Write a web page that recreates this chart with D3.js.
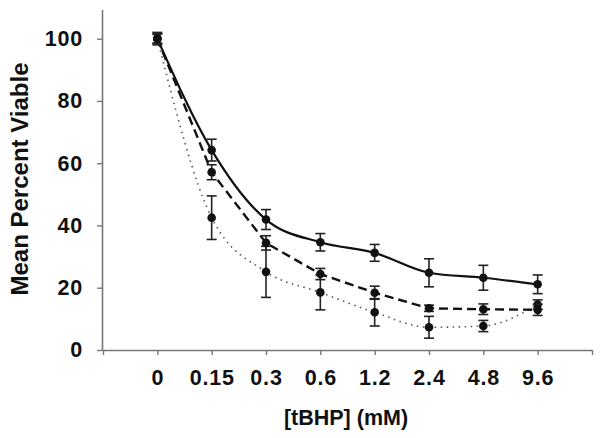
<!DOCTYPE html>
<html><head><meta charset="utf-8">
<script src="https://cdn.jsdelivr.net/npm/d3@7"></script>
<style>body{margin:0;background:#fff}svg{display:block}text{font-family:"Liberation Sans",Arial,sans-serif;font-weight:bold;fill:#111}</style>
</head><body><svg id="c" width="604" height="438"></svg>
<script>
const categories = ["0","0.15","0.3","0.6","1.2","2.4","4.8","9.6"];
const solidValues  = [100, 64.2, 41.9, 34.6, 31.2, 24.8, 23.2, 21.1];
const solidErrors  = [2, 3.5, 3.2, 2.8, 2.7, 4.5, 4, 3];
const dashedValues = [100, 57.1, 34.4, 24.4, 18.4, 13.4, 13.1, 12.9];
const dashedErrors = [1.5, 2.4, 2.3, 1.8, 2.1, 1, 1.7, 1.8];
const dottedValues = [100, 42.5, 25.1, 18.5, 12.1, 7.3, 7.7, 14.6];
const dottedErrors = [1.5, 7, 8.2, 5.6, 4.4, 3.5, 1.8, 1.5];
const yTicks = [0, 20, 40, 60, 80, 100];
const yLabel = "Mean Percent Viable";
const xLabel = "[tBHP] (mM)";

const svg = d3.select("#c");
const x = d3.scaleLinear().domain([0, categories.length + 1]).range([103, 592]);
const y = d3.scaleLinear().domain([0, 109.2]).range([350, 10]);

// axes
const axisColor = "#777";
const yAxis = svg.append("g").attr("transform", "translate(103,0)")
  .call(d3.axisLeft(y).tickValues(yTicks).tickSize(6).tickPadding(14).tickFormat(d3.format("d")));
const xAxis = svg.append("g").attr("transform", "translate(0,350)")
  .call(d3.axisBottom(x).tickValues(d3.range(0, categories.length + 2)).tickSize(5).tickPadding(15)
    .tickFormat(i => (i >= 1 && i <= categories.length) ? categories[i - 1] : ""));
[yAxis, xAxis].forEach(g => {
  g.select(".domain").attr("stroke", axisColor).attr("stroke-width", 1.6);
  g.selectAll(".tick line").attr("stroke", axisColor).attr("stroke-width", 1.4);
  g.selectAll(".tick text").attr("font-size", 21.5).attr("fill", "#111")
    .style("letter-spacing", "0.8px")
    .style("font-family", '"Liberation Sans",Arial,sans-serif').style("font-weight", "bold");
});
yAxis.select(".domain").attr("d", `M-0.5,${y(0)}V${y(109.2)}`);
xAxis.select(".domain").attr("d", `M${x(0)},0.5H${x(categories.length + 1)}`);
xAxis.selectAll(".tick text").attr("dy", "0.71em");

// series
const series = [
  {vals: dottedValues, errs: dottedErrors, color: "#555", width: 1.6, dash: "1.5,4.5", curve: d3.curveMonotoneX},
  {vals: dashedValues, errs: dashedErrors, color: "#111", width: 2.4, dash: "9,5", curve: d3.curveLinear},
  {vals: solidValues,  errs: solidErrors,  color: "#111", width: 2.2, dash: null, curve: d3.curveMonotoneX}
];
series.forEach(s => {
  const line = d3.line().x((d, i) => x(i + 1)).y(d => y(d)).curve(s.curve);
  svg.append("path").datum(s.vals).attr("d", line).attr("fill", "none")
    .attr("stroke", s.color).attr("stroke-width", s.width)
    .attr("stroke-dasharray", s.dash);
});
series.forEach(s => {
  const g = svg.append("g").attr("stroke", "#222").attr("stroke-width", 1.6).attr("fill", "none");
  s.vals.forEach((v, i) => {
    const cx = x(i + 1), top = y(v + s.errs[i]), bot = y(v - s.errs[i]);
    g.append("line").attr("x1", cx).attr("x2", cx).attr("y1", top).attr("y2", bot);
    g.append("line").attr("x1", cx - 5).attr("x2", cx + 5).attr("y1", top).attr("y2", top);
    g.append("line").attr("x1", cx - 5).attr("x2", cx + 5).attr("y1", bot).attr("y2", bot);
  });
  svg.append("g").selectAll("circle").data(s.vals).join("circle")
    .attr("cx", (d, i) => x(i + 1)).attr("cy", d => y(d)).attr("r", 4.3).attr("fill", "#111");
});

// titles
svg.append("text").attr("transform", "translate(28,179) rotate(-90)")
  .attr("text-anchor", "middle").attr("font-size", 24).text(yLabel);
svg.append("text").attr("x", 346).attr("y", 425).attr("text-anchor", "middle")
  .attr("font-size", 21.5).text(xLabel);
</script></body></html>
